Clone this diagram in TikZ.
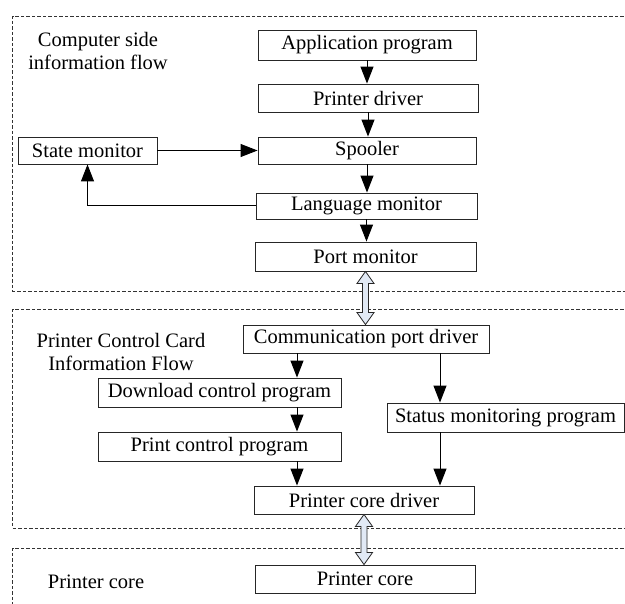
\documentclass[tikz,border=0pt]{standalone}
\usepackage{fontspec}
\setmainfont{Liberation Serif}
\usetikzlibrary{calc,arrows.meta}
\definecolor{arrowfill}{HTML}{E1E9F5}
\tikzset{
  box/.style={draw=black!85, line width=0.9pt, inner sep=0pt, font=\fontsize{20.5}{23}\selectfont},
  title/.style={align=center, inner sep=0pt, font=\fontsize{20.5}{23}\selectfont},
  flow/.style={line width=1pt, -{Triangle[length=17pt,width=13pt]}},
  region/.style={draw=black!80, line width=0.7pt, dash pattern=on 3.5pt off 2pt},
  dbl/.style={draw=black!85, line width=0.8pt, fill=arrowfill}
}
\begin{document}
\begin{tikzpicture}[x=1pt,y=-1pt]
\useasboundingbox (0,0) rectangle (625,604);
\clip (0,0) rectangle (625,604);
\fill[white] (0,0) rectangle (625,604);
% regions
\draw[region] (640,16) -- (12.5,16) -- (12.5,291) -- (640,291);
\draw[region] (640,309) -- (12.5,309) -- (12.5,528) -- (640,528);
\draw[region] (640,548) -- (12.5,548) -- (12.5,620);
% titles
\node[title] (t1) at (98,50.5) {Computer side\\information flow};
\node[title] (t2) at (121,352) {Printer Control Card\\Information Flow};
\node[title] (t3) at (96,582) {Printer core};
% boxes
\node[box, minimum width=218, minimum height=30] (app) at (367,45) {Application program};
\node[box, minimum width=220, minimum height=28] (drv) at (368,98) {Printer driver};
\node[box, minimum width=139, minimum height=27] (state) at (87.5,150.5) {State monitor};
\node[box, minimum width=218, minimum height=27] (spool) at (367,150.5) {Spooler};
\node[box, minimum width=221, minimum height=26] (lang) at (366.5,206) {Language monitor};
\node[box, minimum width=221, minimum height=29] (port) at (365.5,256.5) {Port monitor};
\node[box, minimum width=246, minimum height=28] (comm) at (366,339) {Communication port driver};
\node[box, minimum width=243, minimum height=29] (dl) at (219.5,392.5) {Download control program};
\node[box, minimum width=243, minimum height=29] (pc) at (219.5,446.5) {Print control program};
\node[box, minimum width=237, minimum height=29] (stat) at (505.5,417.5) {Status monitoring program};
\node[box, minimum width=220, minimum height=28] (pcd) at (364,500) {Printer core driver};
\node[box, minimum width=220, minimum height=28] (core) at (365,579) {Printer core};
% column coordinates
\coordinate (lc) at (297,0);
\coordinate (rc) at (440,0);
% connectors
\draw[flow] (app.south) -- (app.south |- drv.north);
\draw[flow] (drv.south) -- (drv.south |- spool.north);
\draw[flow] (spool.south) -- (spool.south |- lang.north);
\draw[flow] (lang.south) -- (lang.south |- port.north);
\draw[flow] (state.east) -- (spool.west);
\draw[flow] (lang.west) -| (state.south);
\draw[flow] (comm.south -| lc) -- (dl.north -| lc);
\draw[flow] (dl.south -| lc) -- (pc.north -| lc);
\draw[flow] (pc.south -| lc) -- (pcd.north -| lc);
\draw[flow] (comm.south -| rc) -- (stat.north -| rc);
\draw[flow] (stat.south -| rc) -- (pcd.north -| rc);
% double arrows
\coordinate (a1) at (port.south);
\coordinate (b1) at (port.south |- comm.north);
\draw[dbl] (a1) -- ($(a1)+(8.5,12)$) -- ($(a1)+(3,12)$) -- ($(b1)+(3,-12)$) -- ($(b1)+(8.5,-12)$) -- (b1)
  -- ($(b1)+(-8.5,-12)$) -- ($(b1)+(-3,-12)$) -- ($(a1)+(-3,12)$) -- ($(a1)+(-8.5,12)$) -- cycle;
\coordinate (a2) at (pcd.south);
\coordinate (b2) at (pcd.south |- core.north);
\draw[dbl] (a2) -- ($(a2)+(8.5,12)$) -- ($(a2)+(3,12)$) -- ($(b2)+(3,-12)$) -- ($(b2)+(8.5,-12)$) -- (b2)
  -- ($(b2)+(-8.5,-12)$) -- ($(b2)+(-3,-12)$) -- ($(a2)+(-3,12)$) -- ($(a2)+(-8.5,12)$) -- cycle;
\end{tikzpicture}
\end{document}
